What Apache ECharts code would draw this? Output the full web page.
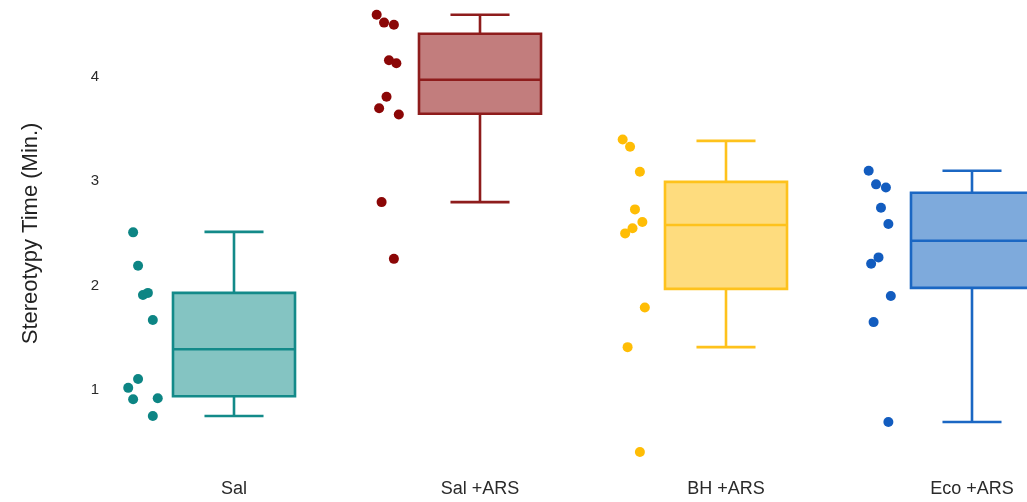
<!DOCTYPE html>
<html><head><meta charset="utf-8">
<script src="https://cdn.jsdelivr.net/npm/echarts@6/dist/echarts.min.js"></script>
<style>html,body{margin:0;padding:0;background:#fff}#c{width:1027px;height:502px}</style>
</head><body><div id="c"></div>
<script>
var categories = ['Sal', 'Sal +ARS', 'BH +ARS', 'Eco +ARS'];
var yTicks = [1, 2, 3, 4];
// box stats: [min, Q1, median, Q3, max]
var boxSal    = [0.75, 0.94, 1.39, 1.93, 2.515];
var boxSalArs = [2.80, 3.646, 3.972, 4.413, 4.595];
var boxBhArs  = [1.41, 1.968, 2.58, 2.994, 3.387];
var boxEcoArs = [0.693, 1.978, 2.429, 2.889, 3.10];
// individual points (values)
var ptsSal    = [2.51, 2.19, 1.91, 1.93, 1.67, 1.105, 1.02, 0.91, 0.92, 0.75];
var ptsSalArs = [4.595, 4.52, 4.50, 4.16, 4.13, 3.81, 3.70, 3.64, 2.80, 2.256];
var ptsBhArs  = [3.40, 3.33, 3.09, 2.73, 2.61, 2.55, 2.50, 1.79, 1.41, 0.405];
var ptsEcoArs = [3.10, 2.97, 2.94, 2.745, 2.59, 2.27, 2.21, 1.90, 1.65, 0.693];
// horizontal jitter of points, in category-band units from the category centre
var jitSal    = [-0.41, -0.39, -0.37, -0.35, -0.33, -0.39, -0.43, -0.41, -0.31, -0.33];
var jitSalArs = [-0.42, -0.39, -0.35, -0.37, -0.34, -0.38, -0.41, -0.33, -0.40, -0.35];
var jitBhArs  = [-0.42, -0.39, -0.35, -0.37, -0.34, -0.38, -0.41, -0.33, -0.40, -0.35];
var jitEcoArs = [-0.42, -0.39, -0.35, -0.37, -0.34, -0.38, -0.41, -0.33, -0.40, -0.34];

var boxes = [boxSal, boxSalArs, boxBhArs, boxEcoArs];
var pts = [ptsSal, ptsSalArs, ptsBhArs, ptsEcoArs];
var jits = [jitSal, jitSalArs, jitBhArs, jitEcoArs];
var strokeCols = ['#138a89', '#8e1c1c', '#fec21c', '#1b67c3'];
var fillCols = ['#84c4c2', '#c27d7d', '#fedc7e', '#7eaadc'];
var dotCols = ['#0d8584', '#8b0606', '#ffbd05', '#125cbf'];

var boxData = boxes.map(function (b, i) { return [i].concat(b); });

var series = [{
  type: 'custom',
  xAxisIndex: 0, yAxisIndex: 0,
  data: boxData,
  encode: { x: 0, y: [1, 2, 3, 4, 5] },
  renderItem: function (params, api) {
    var i = api.value(0);
    var band = api.size([1, 0])[0];
    var hw = band * 0.248, cw = band * 0.12;
    var pMin = api.coord([i, api.value(1)]);
    var pQ1 = api.coord([i, api.value(2)]);
    var pMed = api.coord([i, api.value(3)]);
    var pQ3 = api.coord([i, api.value(4)]);
    var pMax = api.coord([i, api.value(5)]);
    var cx = pMin[0];
    var st = { stroke: strokeCols[i], lineWidth: 2.6, fill: null };
    return {
      type: 'group',
      children: [
        { type: 'line', shape: { x1: cx, y1: pMax[1], x2: cx, y2: pQ3[1] }, style: st },
        { type: 'line', shape: { x1: cx, y1: pQ1[1], x2: cx, y2: pMin[1] }, style: st },
        { type: 'line', shape: { x1: cx - cw, y1: pMax[1], x2: cx + cw, y2: pMax[1] }, style: st },
        { type: 'line', shape: { x1: cx - cw, y1: pMin[1], x2: cx + cw, y2: pMin[1] }, style: st },
        { type: 'rect', shape: { x: cx - hw, y: pQ3[1], width: 2 * hw, height: pQ1[1] - pQ3[1] },
          style: { fill: fillCols[i], stroke: strokeCols[i], lineWidth: 2.6 } },
        { type: 'line', shape: { x1: cx - hw, y1: pMed[1], x2: cx + hw, y2: pMed[1] }, style: st }
      ]
    };
  }
}];
pts.forEach(function (arr, i) {
  series.push({
    type: 'scatter',
    xAxisIndex: 1, yAxisIndex: 0,
    symbolSize: 10,
    itemStyle: { color: dotCols[i], opacity: 1 },
    data: arr.map(function (v, k) { return [i + jits[i][k], v]; })
  });
});

var chart = echarts.init(document.getElementById('c'));
chart.setOption({
  animation: false,
  backgroundColor: '#ffffff',
  grid: { left: 111, top: -27.5, width: 984, bottom: 7.7, containLabel: false, outerBoundsMode: 'none' },
  xAxis: [{
    type: 'category', data: categories,
    axisLine: { show: false }, axisTick: { show: false }, splitLine: { show: false },
    axisLabel: { margin: -14, color: '#2a2a2a', fontSize: 18, fontFamily: 'Liberation Sans, Arial, sans-serif' }
  }, {
    type: 'value', min: -0.5, max: 3.5, show: false
  }],
  yAxis: {
    type: 'value', min: 0, max: 5, interval: 1,
    name: 'Stereotypy Time (Min.)', nameLocation: 'middle', nameGap: 69,
    nameRotate: 90,
    nameTextStyle: { color: '#222', fontSize: 22, fontFamily: 'Liberation Sans, Arial, sans-serif' },
    axisLine: { show: false }, axisTick: { show: false }, splitLine: { show: false },
    axisLabel: {
      margin: 12, color: '#2a2a2a', fontSize: 15, fontFamily: 'Liberation Sans, Arial, sans-serif',
      formatter: function (v) { return yTicks.indexOf(v) >= 0 ? String(v) : ''; }
    }
  },
  series: series
});
</script>
</body></html>
